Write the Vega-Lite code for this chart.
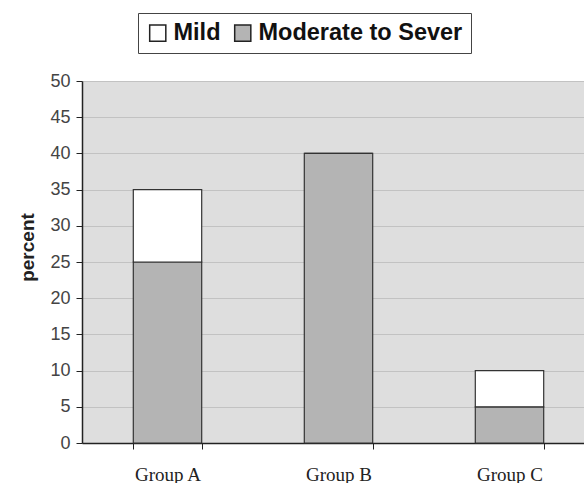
{
  "$schema": "https://vega.github.io/schema/vega-lite/v6.json",
  "autosize": "none",
  "width": 513,
  "height": 362,
  "padding": {"left": 82, "top": 81, "right": 0, "bottom": 40},
  "background": "white",
  "data": {"values": [
    {"group": "Group A", "series": "Moderate to Sever", "value": 25},
    {"group": "Group A", "series": "Mild", "value": 10},
    {"group": "Group B", "series": "Moderate to Sever", "value": 40},
    {"group": "Group B", "series": "Mild", "value": 0},
    {"group": "Group C", "series": "Moderate to Sever", "value": 5},
    {"group": "Group C", "series": "Mild", "value": 5}
  ]},
  "config": {
    "view": {"fill": "#dedede", "stroke": null},
    "axis": {"domainColor": "#222", "tickColor": "#222", "labelColor": "#444"}
  },
  "mark": {"type": "bar", "stroke": "#333", "strokeWidth": 1.2},
  "encoding": {
    "x": {
      "field": "group", "type": "nominal",
      "scale": {"paddingInner": 0.6, "paddingOuter": 0.3},
      "axis": {"title": null, "labelAngle": 0, "labelFont": "Liberation Serif", "labelFontSize": 19, "labelColor": "#222", "labelPadding": 16, "tickBand": "extent", "tickSize": 6, "domainWidth": 1.5}
    },
    "y": {
      "field": "value", "type": "quantitative", "stack": "zero",
      "scale": {"domain": [0, 50], "nice": false},
      "axis": {"title": "percent", "titleFont": "Liberation Sans", "titleFontSize": 19, "titleFontWeight": "bold", "titleColor": "#222", "titlePadding": 12, "titleY": 166, "values": [0,5,10,15,20,25,30,35,40,45,50], "labelFont": "Liberation Sans", "labelFontSize": 18, "labelPadding": 6, "tickSize": 6, "gridColor": "#c2c2c2", "gridWidth": 1, "domainWidth": 1.5}
    },
    "color": {
      "field": "series", "type": "nominal",
      "scale": {"domain": ["Mild", "Moderate to Sever"], "range": ["#ffffff", "#b4b4b4"]},
      "legend": {"title": null, "orient": "none", "direction": "horizontal", "legendX": 56, "legendY": -68, "symbolType": "square", "symbolSize": 260, "symbolStrokeColor": "#222", "symbolStrokeWidth": 1.5, "labelFont": "Liberation Sans", "labelFontSize": 23.5, "labelFontWeight": "bold", "labelColor": "#111", "labelLimit": 400, "strokeColor": "#444", "padding": 8, "columnPadding": 10, "labelOffset": 4, "fillColor": "white"}
    },
    "order": {"field": "series", "sort": "descending"}
  }
}
